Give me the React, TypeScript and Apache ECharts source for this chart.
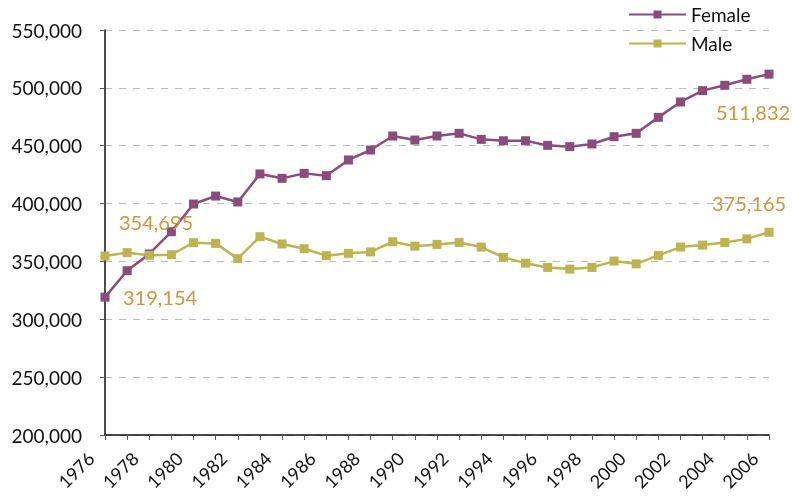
import React, { useEffect, useRef } from "react";
import * as echarts from "echarts";

const years = [
  "1976","1977","1978","1979","1980","1981","1982","1983","1984","1985",
  "1986","1987","1988","1989","1990","1991","1992","1993","1994","1995",
  "1996","1997","1998","1999","2000","2001","2002","2003","2004","2005","2006",
];

const female = [
  319154, 342000, 356500, 375700, 399600, 406500, 401400, 425600, 421800, 426100,
  424100, 437700, 446300, 458400, 454900, 458400, 460700, 455500, 454300, 454300,
  450300, 449200, 451500, 457800, 460700, 474500, 487800, 497600, 502200, 507400, 511832,
];

const male = [
  354695, 357600, 355300, 355800, 366200, 365600, 352400, 371400, 365100, 361000,
  355000, 357000, 358200, 367000, 363200, 364700, 366400, 362400, 353500, 348500,
  344800, 343400, 344800, 350300, 347900, 355200, 362400, 364100, 366400, 369500, 375165,
];

const yTicks = [200000, 250000, 300000, 350000, 400000, 450000, 500000, 550000];

const FONT = "Lato";
const LABEL_COLOR = "#D4933C";
const FEMALE_COLOR = "#8B4C7C";
const MALE_COLOR = "#BCB450";

function fmt(v: number) {
  return v.toLocaleString("en-US");
}

function withEndLabels(values: number[], firstOffset: number[], lastOffset: number[]) {
  return values.map((v, i) => {
    if (i === 0 || i === values.length - 1) {
      return {
        value: v,
        label: {
          show: true,
          position: "inside",
          offset: i === 0 ? firstOffset : lastOffset,
          formatter: () => fmt(v),
          color: LABEL_COLOR,
          fontFamily: FONT,
          fontSize: 20,
        },
      };
    }
    return v;
  });
}

export default function App() {
  const ref = useRef<HTMLDivElement>(null);
  useEffect(() => {
    if (!ref.current) return;
    const chart = echarts.init(ref.current, null, { renderer: "svg" });
    chart.setOption({
      animation: false,
      textStyle: { fontFamily: FONT },
      grid: {
        left: 105,
        right: 23,
        top: 30,
        bottom: 63,
        containLabel: false,
        outerBoundsMode: "none",
      },
      legend: {
        orient: "vertical",
        left: 628,
        top: 5,
        padding: 0,
        itemWidth: 57,
        itemHeight: 10,
        itemGap: 10,
        textStyle: { fontFamily: FONT, fontSize: 19, color: "#111" },
        data: ["Female", "Male"],
      },
      xAxis: {
        type: "category",
        data: years,
        boundaryGap: false,
        axisLine: { lineStyle: { color: "#111", width: 1.5 } },
        axisTick: { show: true, interval: 0, length: 5, lineStyle: { color: "#555" } },
        axisLabel: {
          interval: 1,
          rotate: 45,
          margin: 6,
          padding: [0, 20, 0, 0],
          fontFamily: FONT,
          fontSize: 18,
          color: "#111",
        },
        splitLine: { show: false },
      },
      yAxis: {
        type: "value",
        min: 200000,
        max: 550000,
        interval: 50000,
        axisLine: { show: true, lineStyle: { color: "#111", width: 1.5 } },
        axisTick: { show: true, length: 5, lineStyle: { color: "#555" } },
        axisLabel: {
          margin: 23,
          fontFamily: FONT,
          fontSize: 19,
          color: "#111",
          formatter: (v: number) => (yTicks.includes(v) ? fmt(v) : ""),
        },
        splitLine: { show: true, lineStyle: { color: "#bbb", type: [7, 7], width: 1 } },
      },
      series: [
        {
          name: "Female",
          type: "line",
          data: withEndLabels(female, [55, 0], [-16, 38]),
          symbol: "rect",
          symbolSize: 9,
          itemStyle: { color: FEMALE_COLOR },
          lineStyle: { color: FEMALE_COLOR, width: 2.5 },
        },
        {
          name: "Male",
          type: "line",
          data: withEndLabels(male, [51, -34], [-20, -29]),
          symbol: "rect",
          symbolSize: 9,
          itemStyle: { color: MALE_COLOR },
          lineStyle: { color: MALE_COLOR, width: 2.5 },
        },
      ],
    });
    return () => chart.dispose();
  }, []);
  return (
    <div
      ref={ref}
      style={{ position: "fixed", left: 0, top: 0, width: 792, height: 498 }}
    />
  );
}
